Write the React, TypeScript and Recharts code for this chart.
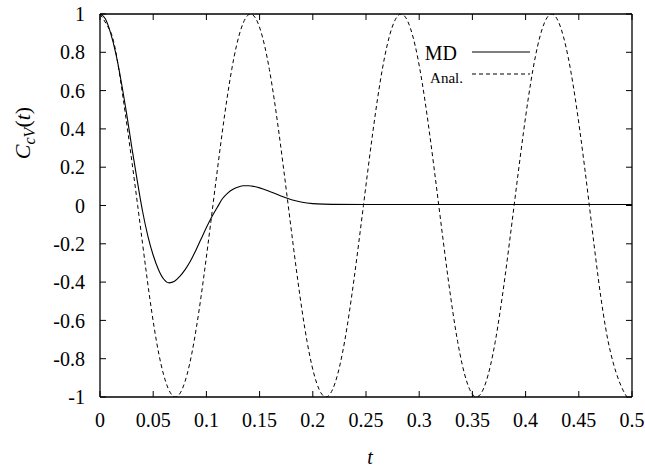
import React from 'react';
import { LineChart, Line, XAxis, YAxis, Legend } from 'recharts';

// MD correlation function
const mdTimes = [0, 0.005, 0.01, 0.015, 0.02, 0.025, 0.03, 0.035, 0.04, 0.045, 0.05, 0.055, 0.06, 0.065, 0.07, 0.075, 0.08, 0.085, 0.09, 0.095, 0.1, 0.105, 0.11, 0.115, 0.12, 0.125, 0.13, 0.135, 0.14, 0.145, 0.15, 0.16, 0.17, 0.18, 0.19, 0.2, 0.21, 0.22, 0.25, 0.3, 0.35, 0.4, 0.45, 0.5];
const mdValues = [1, 0.975, 0.9, 0.79, 0.645, 0.48, 0.3, 0.13, -0.03, -0.16, -0.26, -0.335, -0.385, -0.404, -0.396, -0.37, -0.335, -0.29, -0.235, -0.175, -0.115, -0.06, -0.012, 0.035, 0.065, 0.085, 0.097, 0.103, 0.103, 0.099, 0.092, 0.072, 0.05, 0.03, 0.017, 0.01, 0.007, 0.006, 0.005, 0.005, 0.005, 0.005, 0.005, 0.005];

// analytical curve: peaks, troughs, zero crossings and midpoints
const analTimes = [0, 0.0088, 0.0177, 0.0354, 0.0531, 0.0708, 0.0884, 0.1061, 0.1238, 0.1415, 0.1592, 0.1769, 0.1946, 0.2123, 0.2299, 0.2476, 0.2653, 0.283, 0.3007, 0.3184, 0.3361, 0.3538, 0.3715, 0.3892, 0.4069, 0.4245, 0.4422, 0.4599, 0.4776, 0.4953, 0.5];
const analValues = [1, 0.92, 0.71, 0, -0.71, -1, -0.71, 0, 0.71, 1, 0.71, 0, -0.71, -1, -0.71, 0, 0.71, 1, 0.71, 0, -0.71, -1, -0.71, 0, 0.71, 1, 0.71, 0, -0.71, -1, -0.98];

const xTicks = [0, 0.05, 0.1, 0.15, 0.2, 0.25, 0.3, 0.35, 0.4, 0.45, 0.5];
const yTicks = [-1, -0.8, -0.6, -0.4, -0.2, 0, 0.2, 0.4, 0.6, 0.8, 1];

const mdData = mdTimes.map((t, i) => ({ t, v: mdValues[i] }));
const analData = analTimes.map((t, i) => ({ t, v: analValues[i] }));

const FONT = 'Liberation Serif, Times New Roman, serif';
const tickStyle = { fontFamily: FONT, fontSize: 20, fill: '#000' };

// legend rows, looked up by series name so sorting doesn't matter
const legendRows: Record<string, { textX: number; textY: number; size: number; lineY: number; width: number }> = {
  MD: { textX: 42, textY: 24, size: 20, lineY: 16, width: 1.1 },
  'Anal.': { textX: 48, textY: 47, size: 15, lineY: 38, width: 1 },
};

const renderLegend = (props: any) => {
  const items = props.payload || [];
  return (
    <svg width={125} height={56} style={{ display: 'block', overflow: 'visible' }}>
      {items.map((entry: any) => {
        const r = legendRows[entry.value];
        if (!r) return null;
        return (
          <g key={entry.value}>
            <text x={r.textX} y={r.textY} textAnchor="end" style={{ fontFamily: FONT }} fontSize={r.size} fill="#000">
              {entry.value}
            </text>
            <line
              x1={57}
              x2={115}
              y1={r.lineY}
              y2={r.lineY}
              stroke="#000"
              strokeWidth={r.width}
              strokeDasharray={entry.payload?.strokeDasharray}
            />
          </g>
        );
      })}
    </svg>
  );
};

const YLabel = () => {
  const cx = 30;
  const cy = 133;
  return (
    <text x={cx} y={cy} transform={`rotate(-90 ${cx} ${cy})`} textAnchor="middle" style={{ fontFamily: FONT }} fontSize={22} fill="#000">
      <tspan fontStyle="italic">C</tspan>
      <tspan fontStyle="italic" fontSize={16} dy={5}>cV</tspan>
      <tspan dy={-5}>(</tspan>
      <tspan fontStyle="italic">t</tspan>
      <tspan>)</tspan>
    </text>
  );
};

const XLabel = (props: any) => {
  const vb = props.viewBox || { x: 100, width: 532 };
  return (
    <text x={vb.x + vb.width / 2 + 4} y={464} textAnchor="middle" style={{ fontFamily: FONT }} fontSize={20} fontStyle="italic" fill="#000">
      t
    </text>
  );
};

export default function App() {
  return (
    <div style={{ width: 645, height: 468, background: '#fff', fontFamily: FONT }}>
      <style>{'body{margin:0;}'}</style>
      <LineChart width={645} height={468} margin={{ top: 13, right: 12, bottom: 0, left: 0 }}>
        <XAxis
          xAxisId="bottom"
          dataKey="t"
          type="number"
          domain={[0, 0.5]}
          ticks={xTicks}
          tickFormatter={(v: number) => String(v)}
          tick={tickStyle}
          tickSize={-6}
          tickMargin={22}
          height={71}
          stroke="#000"
          axisLine={{ stroke: '#000', strokeWidth: 1.3 }}
          tickLine={{ stroke: '#000' }}
          label={<XLabel />}
          allowDataOverflow
        />
        <XAxis
          xAxisId="top"
          orientation="top"
          dataKey="t"
          type="number"
          domain={[0, 0.5]}
          ticks={xTicks}
          tickFormatter={() => ''}
          tickSize={-6}
          height={1}
          stroke="#000"
          axisLine={{ stroke: '#000', strokeWidth: 1.3 }}
          tickLine={{ stroke: '#000' }}
          allowDataOverflow
        />
        <YAxis
          yAxisId="left"
          type="number"
          domain={[-1, 1]}
          ticks={yTicks}
          tickFormatter={(v: number) => String(v)}
          tick={tickStyle}
          tickSize={-6}
          tickMargin={21}
          width={100}
          stroke="#000"
          axisLine={{ stroke: '#000', strokeWidth: 1.3 }}
          tickLine={{ stroke: '#000' }}
          label={<YLabel />}
          allowDataOverflow
        />
        <YAxis
          yAxisId="right"
          orientation="right"
          type="number"
          domain={[-1, 1]}
          ticks={yTicks}
          tickFormatter={() => ''}
          tickSize={-6}
          width={1}
          stroke="#000"
          axisLine={{ stroke: '#000', strokeWidth: 1.3 }}
          tickLine={{ stroke: '#000' }}
          allowDataOverflow
        />
        <Legend
          layout="vertical"
          align="center"
          verticalAlign="middle"
          content={renderLegend}
          wrapperStyle={{ left: 415, top: 36, width: 125, height: 56 }}
        />
        <Line
          xAxisId="bottom"
          yAxisId="left"
          data={mdData}
          dataKey="v"
          name="MD"
          type="monotone"
          stroke="#000"
          strokeWidth={1.1}
          dot={false}
          isAnimationActive={false}
        />
        <Line
          xAxisId="bottom"
          yAxisId="left"
          data={analData}
          dataKey="v"
          name="Anal."
          type="natural"
          stroke="#000"
          strokeWidth={1}
          strokeDasharray="4 3"
          dot={false}
          isAnimationActive={false}
        />
      </LineChart>
    </div>
  );
}
